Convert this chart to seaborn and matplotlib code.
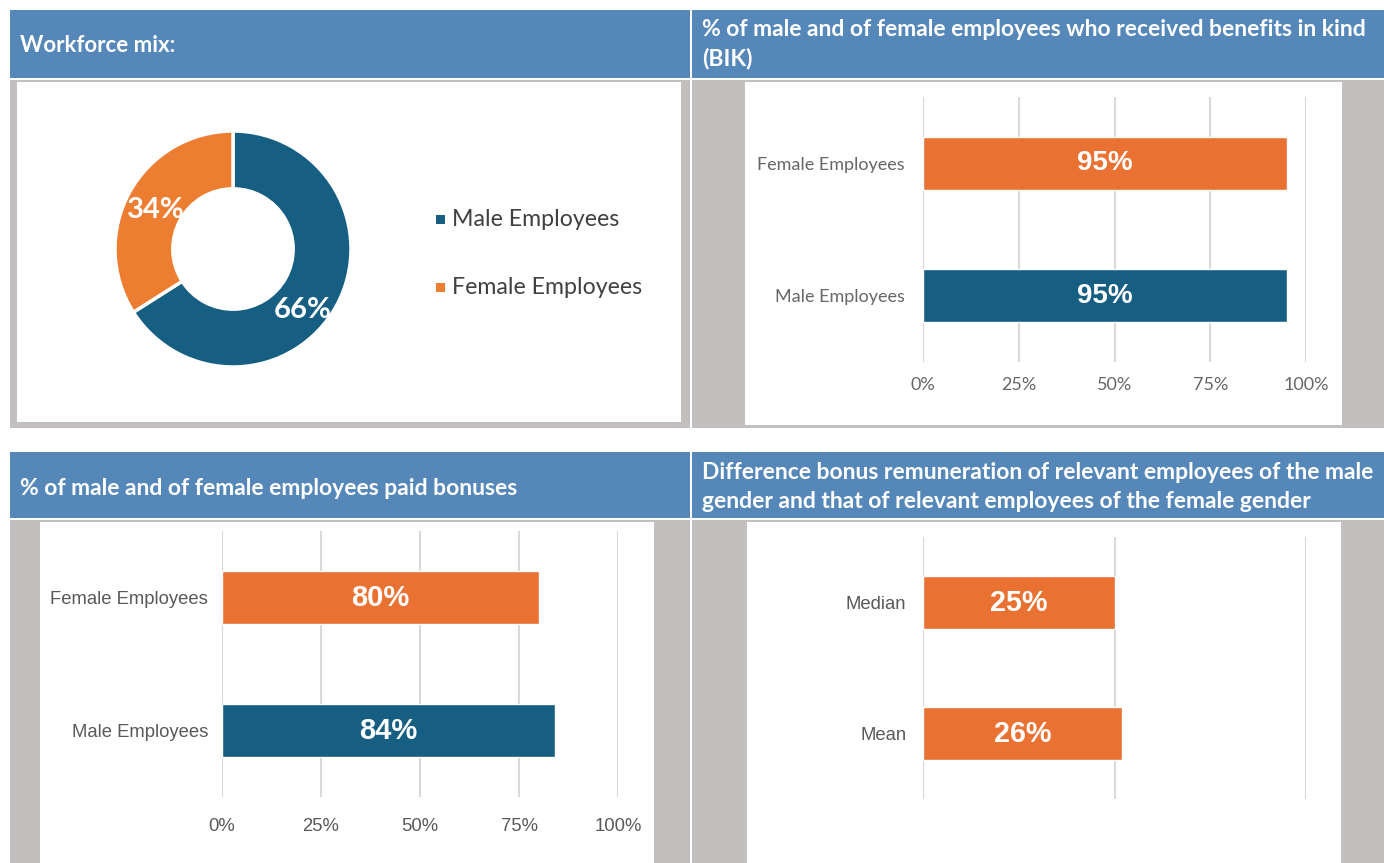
import matplotlib
matplotlib.use("Agg")
import matplotlib.pyplot as plt
from matplotlib.patches import Rectangle
from matplotlib.ticker import FuncFormatter
import seaborn as sns
import pandas as pd

# ---------------- data ----------------
mix_labels = ["Male Employees", "Female Employees"]
mix_values = [66, 34]

bik_categories = ["Female Employees", "Male Employees"]
bik_values = [95, 95]

bonus_categories = ["Female Employees", "Male Employees"]
bonus_values = [80, 84]

gap_categories = ["Median", "Mean"]
gap_values = [25, 26]

pct_ticks = [0, 25, 50, 75, 100]
gap_ticks = [0, 25, 50]

titles = [
    "Workforce mix:",
    "% of male and of female employees who received benefits in kind\n(BIK)",
    "% of male and of female employees paid bonuses",
    "Difference bonus remuneration of relevant employees of the male\ngender and that of relevant employees of the female gender",
]

# ---------------- style ----------------
NAVY = "#175F82"
ORANGE = "#E97132"
ORANGE_D = "#ED7D31"
HEADER = "#5588B8"
GRAY = "#C4BFBF"
GRID = "#D9D9D9"

sns.set_theme(style="white")
plt.rcParams["font.family"] = ["Lato", "DejaVu Sans"]

W, H = 1384, 863
fig = plt.figure(figsize=(W / 100, H / 100), dpi=100)
fig.patch.set_facecolor("white")


def rect(x0, y0, x1, y1, color, z=-10):
    fig.patches.append(Rectangle((x0 / W, 1 - y1 / H), (x1 - x0) / W, (y1 - y0) / H,
                                 transform=fig.transFigure, facecolor=color,
                                 edgecolor="none", zorder=z))


def axes(x0, y0, x1, y1):
    ax = fig.add_axes([x0 / W, 1 - y1 / H, (x1 - x0) / W, (y1 - y0) / H])
    ax.set_facecolor("none")
    ax.set_zorder(5)
    return ax


# headers
rect(10, 10, 690, 78, HEADER)
rect(692, 10, 1384, 78, HEADER)
rect(10, 452, 690, 518, HEADER)
rect(692, 452, 1384, 518, HEADER)

# content frames
rect(10, 80, 690, 428, GRAY)
rect(17, 82, 681, 422, "white", -9)
rect(692, 80, 1384, 428, GRAY)
rect(745, 82, 1342, 425, "white", -9)
rect(10, 520, 690, 863, GRAY)
rect(40, 522, 654, 863, "white", -9)
rect(692, 520, 1384, 863, GRAY)
rect(747, 522, 1341, 863, "white", -9)

hdr_kw = dict(color="white", fontsize=16.5, fontweight="bold", va="center", ha="left",
              transform=fig.transFigure, family=["Lato", "DejaVu Sans"])
fig.text(20 / W, 1 - 46 / H, "Workforce mix:", **{**hdr_kw, "fontsize": 16})
fig.text(702 / W, 1 - 44 / H, titles[1], linespacing=1.45, **hdr_kw)
fig.text(20 / W, 1 - 488 / H, titles[2], **hdr_kw)
fig.text(702 / W, 1 - 487 / H, titles[3], linespacing=1.45, **hdr_kw)

# ---------------- donut ----------------
cx, cy, r = 233, 249, 118
axd = axes(cx - r, cy - r, cx + r, cy + r)
wedges, _, autotexts = axd.pie(
    mix_values, colors=[NAVY, ORANGE_D], startangle=90, counterclock=False,
    autopct="%d%%", pctdistance=0.75,
    wedgeprops=dict(width=0.49, edgecolor="white", linewidth=2.5),
    textprops=dict(color="white", fontsize=21, fontweight="bold"))
axd.set_xlim(-1, 1)
axd.set_ylim(-1, 1)
autotexts[0].set_position((0.59, -0.52))
autotexts[1].set_position((-0.65, 0.33))

# legend (drawn as figure text + square markers)
for i, (lab, col) in enumerate(zip(mix_labels, [NAVY, ORANGE_D])):
    yy = 219 + i * 68
    rect(436, yy - 4, 445, yy + 5, col, -8)
    fig.text(452 / W, 1 - yy / H, lab, color="#404040", fontsize=16.7, va="center",
             ha="left", family=["Lato", "DejaVu Sans"])


# ---------------- bar panels ----------------
def bar_panel(ax, cats, vals, colors, ticks, show_ticklabels, tickfont, ylab_pad,
              xlab_pad, ylab_size, val_size, ylab_color):
    df = pd.DataFrame({"cat": cats, "val": vals})
    sns.barplot(data=df, x="val", y="cat", hue="cat", palette=colors, orient="h",
                width=0.4, ax=ax, legend=False, saturation=1)
    ax.set_xlim(ticks[0], ticks[-1])
    ax.set_ylim(1.5, -0.5)
    ax.set_xticks(ticks)
    for t in ticks:
        ax.axvline(t, color=GRID, lw=1.5, zorder=0)
    for s in ax.spines.values():
        s.set_visible(False)
    ax.set_xlabel("")
    ax.set_ylabel("")
    ax.tick_params(axis="both", length=0)
    ax.tick_params(axis="y", pad=ylab_pad, labelsize=ylab_size, labelcolor=ylab_color)
    ax.tick_params(axis="x", pad=xlab_pad, labelsize=ylab_size, labelcolor=ylab_color)
    ax.xaxis.set_major_formatter(FuncFormatter(lambda v, p: f"{int(v)}%"))
    if not show_ticklabels:
        ax.set_xticklabels([])
    for lab in ax.get_yticklabels() + ax.get_xticklabels():
        lab.set_family(tickfont)
    for cont in ax.containers:
        ax.bar_label(cont, labels=[f"{v:g}%" for v in cont.datavalues], label_type="center",
                     color="white", fontsize=val_size, fontweight="bold",
                     family=["Liberation Sans", "DejaVu Sans"])


ax2 = axes(923, 97, 1306, 362)
bar_panel(ax2, bik_categories, bik_values, [ORANGE, NAVY], pct_ticks, True,
          ["Lato", "DejaVu Sans"], 13, 11, 13, 20, "#666666")

ax3 = axes(222, 531, 618, 797)
bar_panel(ax3, bonus_categories, bonus_values, [ORANGE, NAVY], pct_ticks, True,
          ["Liberation Sans", "DejaVu Sans"], 10, 15, 13.3, 21, "#595959")

ax4 = axes(923, 537, 1306, 799)
bar_panel(ax4, gap_categories, gap_values, [ORANGE, ORANGE], gap_ticks, False,
          ["Liberation Sans", "DejaVu Sans"], 12, 15, 13.3, 20.7, "#595959")

fig.savefig("out.png", dpi=100, facecolor="white")
